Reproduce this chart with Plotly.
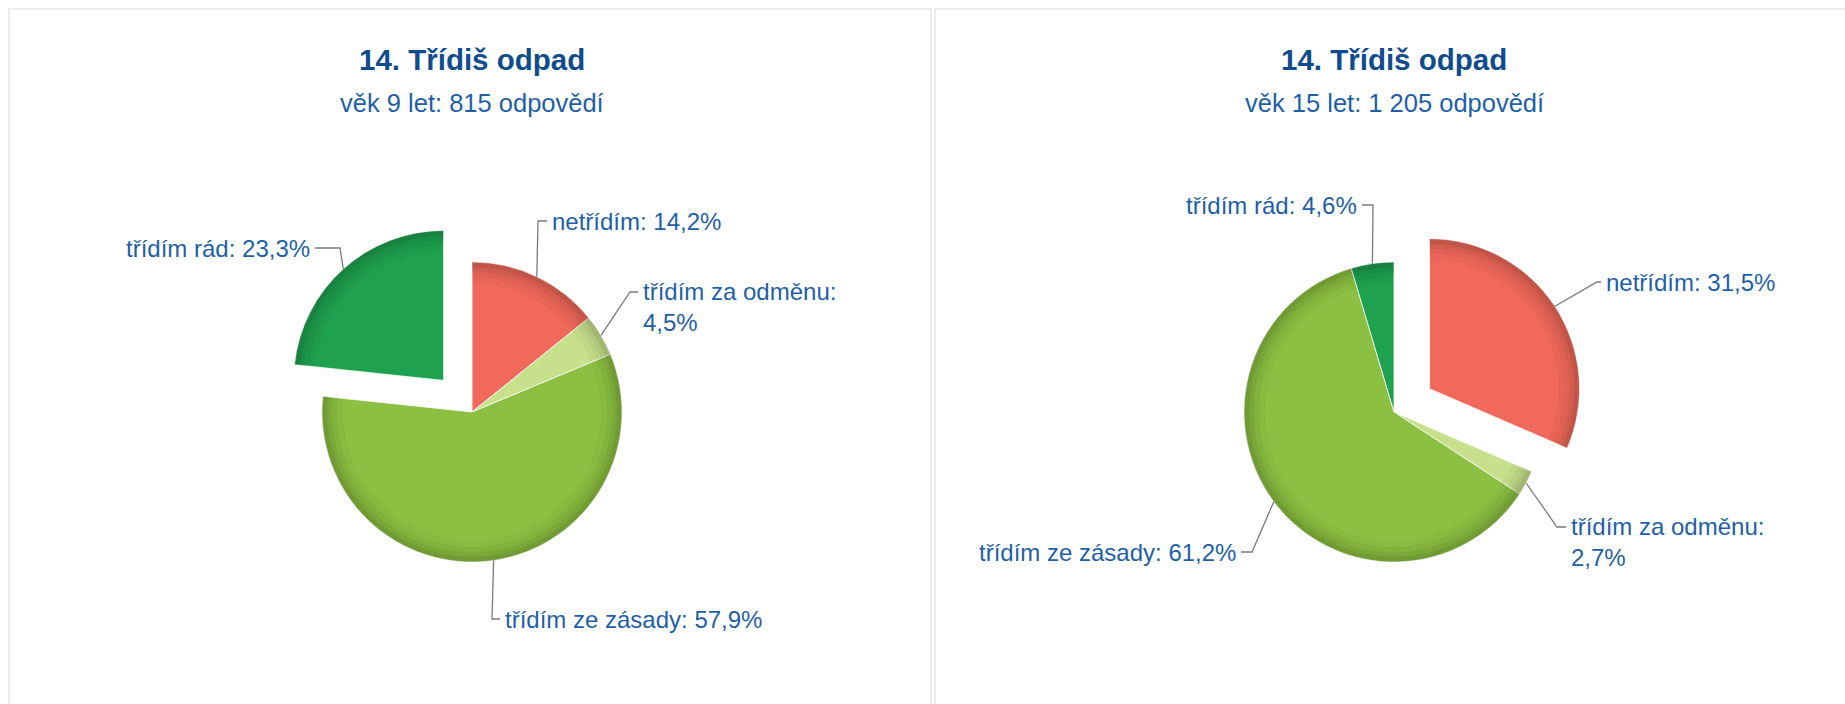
import math
import plotly.graph_objects as go

W, H = 1845, 704

labels = ["netřídím", "třídím za odměnu", "třídím ze zásady", "třídím rád"]
colors = ["#f0695a", "#c7e08c", "#8cc042", "#1fa24f"]

age9_values = [14.2, 4.5, 57.9, 23.3]
age15_values = [31.5, 2.7, 61.2, 4.6]

charts = [
    dict(title="14. Třídiš odpad", subtitle="věk 9 let: 815 odpovědí",
         values=age9_values, pulled=3, cx=472, cy=412),
    dict(title="14. Třídiš odpad", subtitle="věk 15 let: 1 205 odpovědí",
         values=age15_values, pulled=0, cx=1394, cy=412),
]

# label placement (text y, elbow x, text x, anchor) for each slice
label_pos = [
    [(221, 538, 550, "left"), (307, 630, 641, "left"),
     (619, 492, 503, "left"), (248, 340, 312, "right")],
    [(282, 1597, 1604, "left"), (542, 1557, 1569, "left"),
     (552, 1252, 1238, "right"), (205, 1373, 1359, "right")],
]
first_line_y = [[221, 292, 619, 248], [282, 527, 552, 205]]

R = 150
PULL = 0.283
BLUE = "#0f4c8e"
LBLUE = "#1f5fa6"

fig = go.Figure()
shapes = []
annotations = []

box = 2 * R * (1 + PULL)

for k, ch in enumerate(charts):
    dom_x = [(ch["cx"] - box / 2) / W, (ch["cx"] + box / 2) / W]
    dom_y = [1 - (ch["cy"] + box / 2) / H, 1 - (ch["cy"] - box / 2) / H]
    pull = [PULL if i == ch["pulled"] else 0 for i in range(4)]
    fig.add_trace(go.Pie(
        labels=labels, values=ch["values"], sort=False, direction="clockwise",
        rotation=0, pull=pull, domain=dict(x=dom_x, y=dom_y),
        marker=dict(colors=colors, line=dict(color="rgba(255,255,255,0.8)", width=1)),
        textinfo="none", hoverinfo="label+percent", showlegend=False,
    ))
    # darker rim to mimic the shaded edge
    for hole, shade in [(0.86, "rgba(0,0,0,0.03)"), (0.90, "rgba(0,0,0,0.04)"),
                        (0.935, "rgba(0,0,0,0.05)"), (0.965, "rgba(0,0,0,0.07)")]:
        fig.add_trace(go.Pie(
            labels=labels, values=ch["values"], sort=False, direction="clockwise",
            rotation=0, pull=pull, hole=hole, domain=dict(x=dom_x, y=dom_y),
            marker=dict(colors=[shade] * 4, line=dict(width=0)),
            textinfo="none", hoverinfo="skip", showlegend=False,
        ))

    annotations.append(dict(x=ch["cx"], y=59, text="<b>" + ch["title"] + "</b>",
                            showarrow=False, font=dict(size=29.5, color=BLUE)))
    annotations.append(dict(x=ch["cx"], y=103, text=ch["subtitle"],
                            showarrow=False, font=dict(size=25.5, color=LBLUE)))

    total = sum(ch["values"])
    cum = 0
    for i, v in enumerate(ch["values"]):
        mid = (cum + v / 2) / total * 2 * math.pi
        cum += v
        dx, dy = math.sin(mid), -math.cos(mid)
        off = PULL * R if i == ch["pulled"] else 0
        ex = ch["cx"] + (R + off) * dx
        ey = ch["cy"] + (R + off) * dy
        ty, elx, tx, anchor = label_pos[k][i]
        ly = first_line_y[k][i]
        end = tx - 3 if anchor == "left" else tx + 3
        shapes.append(dict(type="path", xref="x", yref="y",
                           path=f"M{ex:.1f},{ey:.1f} L{elx},{ly} L{end},{ly}",
                           line=dict(color="#7a7a7a", width=1.3)))
        pct = f"{v:.1f}".replace(".", ",") + "%"
        txt = f"{labels[i]}: {pct}"
        if labels[i] == "třídím za odměnu":
            txt = f"{labels[i]}:<br>{pct}"
        annotations.append(dict(x=tx, y=ty, text=txt, showarrow=False,
                                xanchor=anchor, yanchor="middle", align="left",
                                font=dict(size=24, color=LBLUE)))

# panel frames
shapes.append(dict(type="rect", xref="x", yref="y", x0=9, x1=931, y0=9, y1=720,
                   line=dict(color="#ececec", width=2), layer="below"))
shapes.append(dict(type="rect", xref="x", yref="y", x0=935, x1=1870, y0=9, y1=720,
                   line=dict(color="#ececec", width=2), layer="below"))

fig.update_layout(
    width=W, height=H,
    margin=dict(l=0, r=0, t=0, b=0),
    paper_bgcolor="white", plot_bgcolor="white",
    font=dict(family="Liberation Sans, Arial, sans-serif"),
    xaxis=dict(range=[0, W], visible=False, fixedrange=True),
    yaxis=dict(range=[H, 0], visible=False, fixedrange=True),
    shapes=shapes, annotations=annotations,
)

fig.write_html("out.html", config={"displayModeBar": False},
               post_script="document.body.style.margin = '0';")
